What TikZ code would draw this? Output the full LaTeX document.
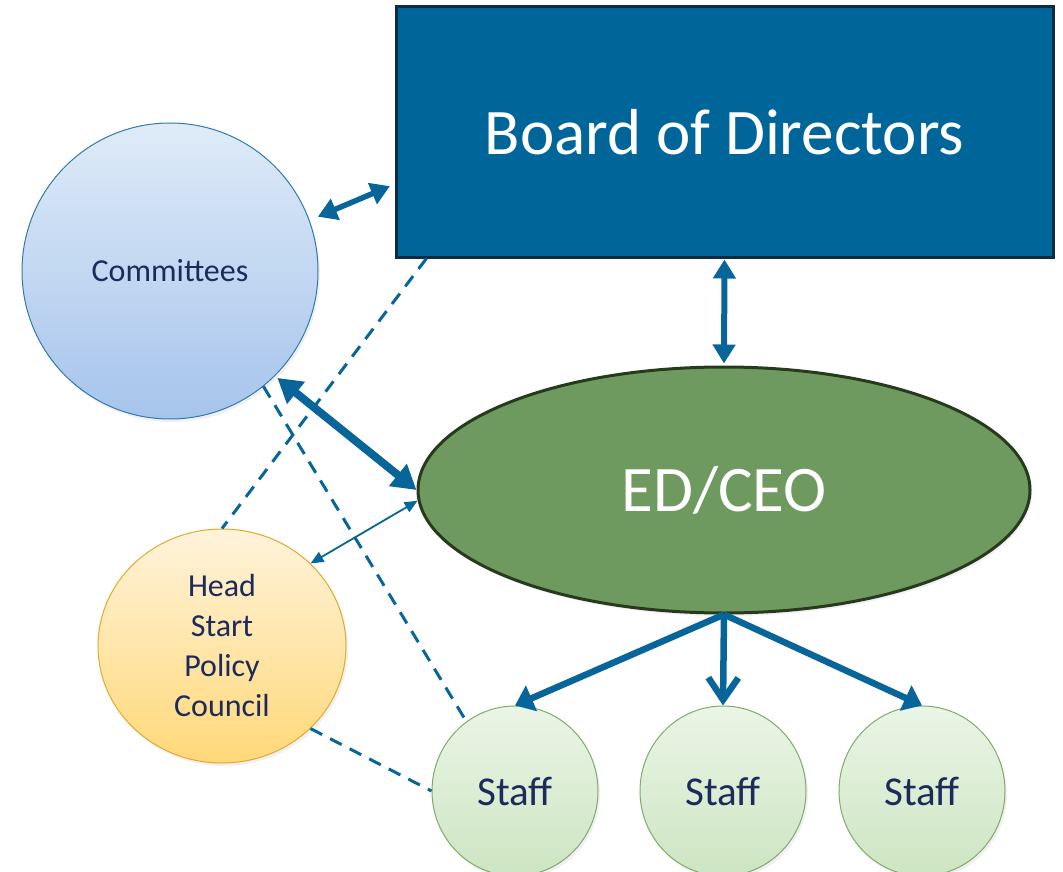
\documentclass[tikz,border=0pt]{standalone}
\usepackage{fontspec}
\setmainfont{Carlito}
\usetikzlibrary{arrows.meta,shapes.geometric,shadows}
\definecolor{boardblue}{HTML}{006699}
\definecolor{boardline}{HTML}{0B2B45}
\definecolor{arrowblue}{HTML}{07659A}
\definecolor{edgreen}{HTML}{6F9A5F}
\definecolor{edline}{HTML}{283A1D}
\definecolor{navytext}{HTML}{1C2B5A}
\definecolor{commtop}{HTML}{DFEBF8}
\definecolor{commbot}{HTML}{A6C4EC}
\definecolor{commline}{HTML}{2F7BAA}
\definecolor{hstop}{HTML}{FFF3DB}
\definecolor{hsbot}{HTML}{FFD878}
\definecolor{hsline}{HTML}{E3A92A}
\definecolor{stafftop}{HTML}{EAF5E6}
\definecolor{staffbot}{HTML}{CDE5C2}
\definecolor{staffline}{HTML}{7FAA6A}
\begin{document}
\begin{tikzpicture}[x=1pt,y=-1pt,
  bubble/.style={ellipse, inner sep=0pt, line width=1pt, text=navytext,
    drop shadow={opacity=0.12, shadow xshift=2pt, shadow yshift=-3pt}},
  commstyle/.style={bubble, top color=commtop, bottom color=commbot, draw=commline,
    minimum width=296pt, minimum height=296pt, font=\fontsize{32}{38}\selectfont},
  hsstyle/.style={bubble, top color=hstop, bottom color=hsbot, draw=hsline,
    minimum width=248pt, minimum height=234pt, align=center, text width=110pt,
    font=\fontsize{32}{40}\selectfont},
  staffstyle/.style={bubble, top color=stafftop, bottom color=staffbot, draw=staffline,
    minimum width=166pt, minimum height=170pt, font=\fontsize{41}{48}\selectfont},
  conn/.style={draw=arrowblue, line width=6.5pt},
  dashline/.style={draw=arrowblue, line width=3pt, dash pattern=on 13pt off 9pt},
  dblhead/.style={arrows={Triangle[length=19pt,width=22pt]-Triangle[length=19pt,width=22pt]}},
  bighead/.style={arrows={Triangle[length=24pt,width=27pt]-Triangle[length=24pt,width=27pt]}},
  thinhead/.style={arrows={Triangle[length=13pt,width=11pt]-Triangle[length=13pt,width=11pt]}},
  onehead/.style={arrows={-Triangle[length=18pt,width=27pt]}},
  barbhead/.style={arrows={-Straight Barb[length=22pt,width=30pt]}}
]
\useasboundingbox (0,0) rectangle (1063,872);

% Nodes
\node[rectangle, fill=boardblue, draw=boardline, line width=3pt,
      minimum width=657pt, minimum height=250pt, inner sep=0pt,
      text=white, font=\fontsize{65}{72}\selectfont] (board) at (724.5,132) {Board of Directors};
\node[ellipse, fill=edgreen, draw=edline, line width=3pt,
      minimum width=612pt, minimum height=246pt, inner sep=0pt,
      text=white, font=\fontsize{65}{72}\selectfont,
      drop shadow={opacity=0.12, shadow xshift=2pt, shadow yshift=-3pt}] (ed) at (724,490) {ED/CEO};
\node[commstyle] (comm) at (170,271) {Committees};
\node[hsstyle] (hs) at (222,646) {Head\\Start\\Policy\\Council};
\node[staffstyle] (staff1) at (515,791) {Staff};
\node[staffstyle] (staff2) at (723,791) {Staff};
\node[staffstyle] (staff3) at (922,791) {Staff};

% Dashed links
\draw[dashline] (board.203.7) -- (hs.north);
\draw[dashline] (comm.309) -- (staff1.125);
\draw[dashline] (hs.317) -- (staff1.west);

% Arrows
\draw[conn, line width=5.5pt, dblhead, shorten <=9pt, shorten >=5pt] (comm.20) -- (board.189.5);
\draw[conn, line width=6pt, dblhead, shorten <=1pt, shorten >=2pt] (board.south) -- (ed.north);
\draw[conn, line width=8pt, bighead, shorten <=3pt] (comm.315) -- (ed.west);
\draw[draw=arrowblue, line width=1.8pt, thinhead] (ed.182) -- (hs.43);
\draw[conn, onehead] (ed.south) -- (staff1.north);
\draw[conn, barbhead] (ed.south) -- (staff2.north);
\draw[conn, onehead] (ed.south) -- (staff3.north);
\end{tikzpicture}
\end{document}
